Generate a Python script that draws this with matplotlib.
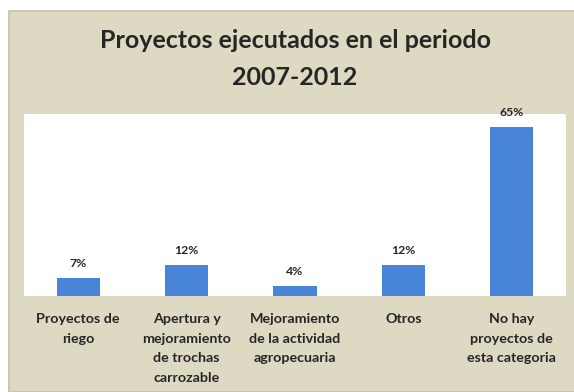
import matplotlib.pyplot as plt
from matplotlib.patches import Rectangle

# proyectos ejecutados 2007-2012, porcentaje por categoria
categorias = [
    "Proyectos de\nriego",
    "Apertura y\nmejoramiento\nde trochas\ncarrozable",
    "Mejoramiento\nde la actividad\nagropecuaria",
    "Otros",
    "No hay\nproyectos de\nesta categoria",
]
porcentajes = [7, 12, 4, 12, 65]
titulo = ["Proyectos ejecutados en el periodo", "2007-2012"]

W, H = 574, 392
fondo = '#ddd9c3'
azul = '#4885d8'
texto = '#262626'

plt.rcParams['font.family'] = ['Lato', 'DejaVu Sans']

fig = plt.figure(figsize=(W / 100, H / 100), dpi=100)
fig.set_facecolor('white')

# panel beige detras del grafico
panel = Rectangle((9 / W, 0), 1, (H - 11) / H, transform=fig.transFigure,
                  facecolor=fondo, edgecolor='#c4c0aa', linewidth=1.2, zorder=-1)
fig.patches.append(panel)

ax = fig.add_axes([24 / W, (H - 296) / H, (566 - 24) / W, (296 - 114) / H])
ax.set_facecolor('white')

x = range(len(porcentajes))
ax.bar(x, porcentajes, width=0.4, color=azul)

for i, v in zip(x, porcentajes):
    ax.annotate(f"{v}%", (i, v), xytext=(0, 10.5), textcoords='offset points',
                ha='center', va='center', fontsize=8.8, fontweight='bold', color=texto)

ax.set_xlim(-0.5, len(porcentajes) - 0.5)
ax.set_ylim(0, 70)
ax.set_yticks([])
ax.set_xticks(list(x))
ax.set_xticklabels(categorias, fontsize=10.3, fontweight='bold', color=texto, linespacing=1.75)
ax.tick_params(axis='x', length=0, pad=12.5)
for s in ax.spines.values():
    s.set_visible(False)

# titulo en dos lineas
for linea, yb in zip(titulo, [48, 85]):
    fig.text(295 / W, 1 - yb / H, linea, ha='center', va='baseline',
             fontsize=18, fontweight='bold', color=texto)

fig.savefig('out.png', dpi=100)
